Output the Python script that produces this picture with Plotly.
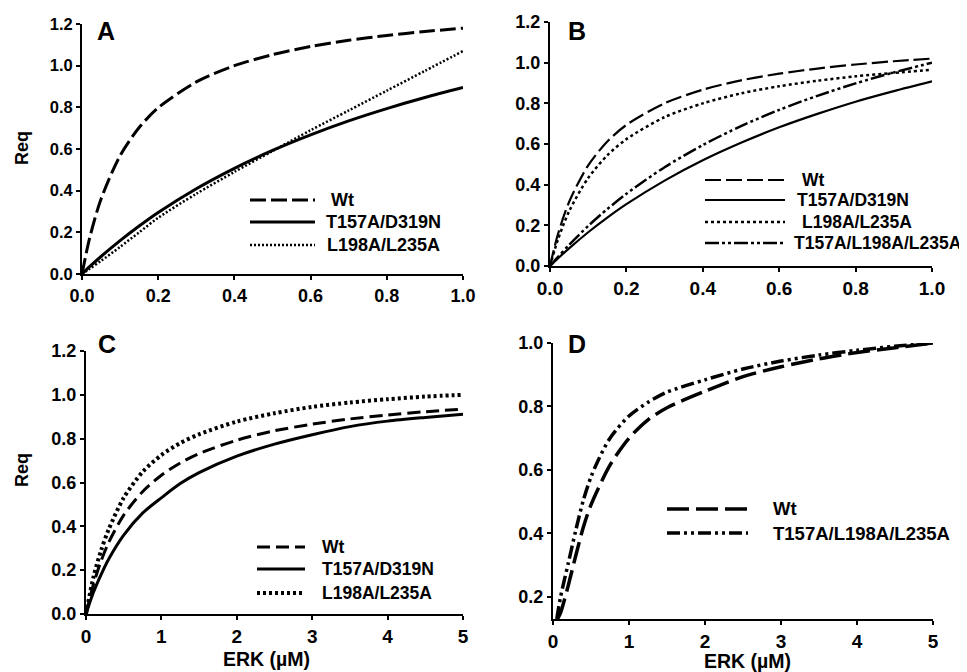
import plotly.graph_objects as go

# ---------------- data ----------------
xA = [0, 0.02, 0.05, 0.1, 0.15, 0.2, 0.3, 0.4, 0.5, 0.6, 0.7, 0.8, 0.9, 1.0]
A_wt = [0, 0.172, 0.360, 0.568, 0.703, 0.798, 0.922, 1.0, 1.053, 1.092, 1.122, 1.145, 1.164, 1.180]
A_t157a_d319n = [0, 0.035, 0.084, 0.160, 0.230, 0.295, 0.409, 0.507, 0.593, 0.668, 0.735, 0.794, 0.847, 0.895]
A_l198a_l235a = [0, 0.025, 0.063, 0.13, 0.20, 0.27, 0.385, 0.49, 0.59, 0.69, 0.785, 0.88, 0.975, 1.07]

xB = [0, 0.02, 0.05, 0.1, 0.15, 0.2, 0.3, 0.4, 0.5, 0.6, 0.7, 0.8, 0.9, 1.0]
B_wt = [0, 0.151, 0.315, 0.495, 0.612, 0.694, 0.800, 0.867, 0.913, 0.946, 0.971, 0.991, 1.007, 1.020]
B_t157a_d319n = [0, 0.036, 0.087, 0.166, 0.238, 0.304, 0.420, 0.520, 0.606, 0.682, 0.748, 0.808, 0.860, 0.908]
B_l198a_l235a = [0, 0.126, 0.269, 0.433, 0.544, 0.624, 0.732, 0.800, 0.849, 0.884, 0.911, 0.933, 0.950, 0.965]
B_triple = [0, 0.043, 0.104, 0.197, 0.280, 0.355, 0.486, 0.595, 0.688, 0.768, 0.837, 0.898, 0.952, 1.000]

xC = [0, 0.1, 0.2, 0.3, 0.5, 0.75, 1.0, 1.25, 1.5, 2.0, 2.5, 3.0, 3.5, 4.0, 4.5, 5.0]
C_wt = [0, 0.137, 0.242, 0.326, 0.451, 0.558, 0.633, 0.689, 0.732, 0.793, 0.836, 0.866, 0.890, 0.908, 0.923, 0.935]
C_t157a_d319n = [0, 0.10, 0.18, 0.25, 0.36, 0.46, 0.53, 0.595, 0.645, 0.72, 0.775, 0.818, 0.855, 0.88, 0.897, 0.912]
C_l198a_l235a = [0, 0.17, 0.29, 0.385, 0.53, 0.648, 0.725, 0.78, 0.82, 0.878, 0.916, 0.945, 0.965, 0.98, 0.992, 1.0]

xD_wt = [0.06, 0.1, 0.15, 0.2, 0.3, 0.4, 0.5, 0.75, 1.0, 1.25, 1.5, 2.0, 2.5, 3.0, 3.5, 4.0, 4.5, 5.0]
D_wt = [0.13, 0.15, 0.19, 0.235, 0.33, 0.42, 0.49, 0.615, 0.70, 0.758, 0.796, 0.848, 0.894, 0.925, 0.95, 0.97, 0.985, 1.0]
xD_triple = [0.05, 0.1, 0.2, 0.3, 0.4, 0.5, 0.6, 0.75, 1.0, 1.25, 1.5, 2.0, 2.5, 3.0, 3.5, 4.0, 4.5, 5.0]
D_triple = [0.13, 0.20, 0.305, 0.41, 0.505, 0.578, 0.633, 0.70, 0.77, 0.813, 0.845, 0.884, 0.918, 0.943, 0.962, 0.977, 0.99, 1.0]

ticksA_x = [0.0, 0.2, 0.4, 0.6, 0.8, 1.0]
ticks_y12 = [0.0, 0.2, 0.4, 0.6, 0.8, 1.0, 1.2]
ticksC_x = [0, 1, 2, 3, 4, 5]
ticksD_y = [0.2, 0.4, 0.6, 0.8, 1.0]

# ---------------- styles ----------------
# The page body has an 8px margin; the figure starts at (8, 8) and reaches the window edges
OFF = 8
W, H = 967 - OFF, 672 - OFF
FONT = "Liberation Sans, Arial, sans-serif"
BLACK = "#000000"

def px(x):
    return (x - OFF) / W

def py(y):
    return 1 - (y - OFF) / H

STY = {
    "A_wt": dict(width=3, dash="16px,5px"),
    "A_sol": dict(width=3, dash="solid"),
    "A_dot": dict(width=2.5, dash="2px,2px"),
    "B_wt": dict(width=2.2, dash="16px,5px"),
    "B_sol": dict(width=2.2, dash="solid"),
    "B_dot": dict(width=2.5, dash="3px,3px"),
    "B_tri": dict(width=2.5, dash="14px,3px,3px,3px,3px,3px"),
    "C_wt": dict(width=3, dash="13px,6px"),
    "C_sol": dict(width=3, dash="solid"),
    "C_dot": dict(width=4, dash="3px,3px"),
    "D_wt": dict(width=3.5, dash="22px,7px"),
    "D_tri": dict(width=3.5, dash="13px,4px,3px,4px,3px,4px"),
}

fig = go.Figure()

def add(x, y, name, sty, xa, ya):
    fig.add_trace(go.Scatter(
        x=x, y=y, name=name, mode="lines",
        line=dict(color=BLACK, shape="spline", smoothing=0.8, **STY[sty]),
        xaxis=xa, yaxis=ya, showlegend=False))

add(xA, A_wt, "Wt", "A_wt", "x", "y")
add(xA, A_t157a_d319n, "T157A/D319N", "A_sol", "x", "y")
add(xA, A_l198a_l235a, "L198A/L235A", "A_dot", "x", "y")

add(xB, B_wt, "Wt", "B_wt", "x2", "y2")
add(xB, B_t157a_d319n, "T157A/D319N", "B_sol", "x2", "y2")
add(xB, B_l198a_l235a, "L198A/L235A", "B_dot", "x2", "y2")
add(xB, B_triple, "T157A/L198A/L235A", "B_tri", "x2", "y2")

add(xC, C_wt, "Wt", "C_wt", "x3", "y3")
add(xC, C_t157a_d319n, "T157A/D319N", "C_sol", "x3", "y3")
add(xC, C_l198a_l235a, "L198A/L235A", "C_dot", "x3", "y3")

add(xD_wt, D_wt, "Wt", "D_wt", "x4", "y4")
add(xD_triple, D_triple, "T157A/L198A/L235A", "D_tri", "x4", "y4")

def axis(domain, rng, tickvals, fmt, fsize, anchor):
    return dict(
        domain=domain, range=rng, tickvals=tickvals, tickformat=fmt,
        showline=True, linecolor=BLACK, linewidth=2, mirror=False,
        ticks="outside", ticklen=4, tickwidth=1.5, tickcolor=BLACK,
        showgrid=False, zeroline=False, anchor=anchor, automargin=False,
        tickfont=dict(family=FONT, size=fsize, color=BLACK, weight="bold"),
        fixedrange=True,
    )

layout = dict(
    width=W, height=H,
    margin=dict(l=0, r=0, t=0, b=0, autoexpand=False),
    paper_bgcolor="white", plot_bgcolor="white",
    font=dict(family=FONT, color=BLACK, weight="bold"),
    showlegend=False,
    xaxis=axis([px(82), px(463)], [0, 1.0], ticksA_x, ".1f", 18, "y"),
    yaxis=axis([py(274), py(24)], [0, 1.2], ticks_y12, ".1f", 16.5, "x"),
    xaxis2=axis([px(550), px(932)], [0, 1.0], ticksA_x, ".1f", 19, "y2"),
    yaxis2=axis([py(266), py(22)], [0, 1.2], ticks_y12, ".1f", 18, "x2"),
    xaxis3=axis([px(86), px(463)], [0, 5], ticksC_x, "d", 19, "y3"),
    yaxis3=axis([py(614), py(351)], [0, 1.2], ticks_y12, ".1f", 18, "x3"),
    xaxis4=axis([px(553), px(933)], [0, 5], ticksC_x, "d", 19, "y4"),
    yaxis4=axis([py(619), py(343)], [0.13, 1.0], ticksD_y, ".1f", 18, "x4"),
)
fig.update_layout(**layout)

shapes = []
annotations = []

def text(x, y, s, size, xanchor="left", angle=0):
    annotations.append(dict(
        x=px(x), y=py(y), xref="paper", yref="paper", text=s, showarrow=False,
        xanchor=xanchor, yanchor="middle", textangle=angle,
        font=dict(family=FONT, size=size, color=BLACK, weight="bold")))

def legend(x0, x1, tx, rows, size):
    for (yy, label, sty, tx_off) in rows:
        st = STY[sty]
        shapes.append(dict(type="line", xref="paper", yref="paper",
                           x0=px(x0), x1=px(x1), y0=py(yy), y1=py(yy),
                           line=dict(color=BLACK, width=st["width"], dash=st["dash"])))
        text(tx + tx_off, yy, label, size)

legend(250, 315, 324, [(200, "Wt", "A_wt", 5), (222, "T157A/D319N", "A_sol", 0),
                       (245, "L198A/L235A", "A_dot", 1)], 18)
legend(705, 785, 792, [(180, "Wt", "B_wt", 8), (200, "T157A/D319N", "B_sol", 3),
                       (222, "L198A/L235A", "B_dot", 8), (243, "T157A/L198A/L235A", "B_tri", 0)], 17.5)
legend(257, 305, 320, [(547, "Wt", "C_wt", 0), (569, "T157A/D319N", "C_sol", 0),
                       (593, "L198A/L235A", "C_dot", 0)], 17.5)
legend(667, 748, 771, [(509, "Wt", "D_wt", 0), (533, "T157A/L198A/L235A", "D_tri", 0)], 18.5)

# panel letters
text(95, 31, "A", 25)
text(566, 31, "B", 25)
text(96, 344, "C", 25)
text(566, 344, "D", 25)

# axis titles
text(22, 148, "Req", 18, xanchor="center", angle=-90)
text(22, 470, "Req", 18, xanchor="center", angle=-90)
text(266, 659, "ERK (µM)", 19.5, xanchor="center")
text(747, 661, "ERK (µM)", 19.5, xanchor="center")

fig.update_layout(shapes=shapes, annotations=annotations)

fig.write_html("out.html")
